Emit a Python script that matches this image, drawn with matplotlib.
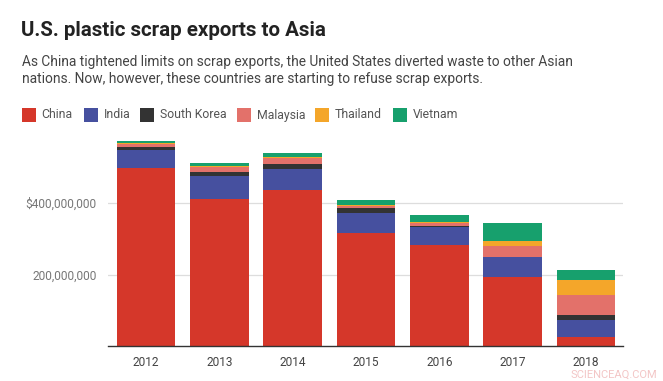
import matplotlib
matplotlib.use("Agg")
import matplotlib.pyplot as plt
from matplotlib.patches import Rectangle

plt.rcParams['font.family'] = ['Roboto', 'DejaVu Sans']

years = ['2012', '2013', '2014', '2015', '2016', '2017', '2018']
# values in millions of US dollars
china    = [499, 411, 435, 315, 282, 192, 24]
india    = [50, 65, 61, 58, 51, 56, 48]
skorea   = [7, 11, 14, 12, 4, 2, 14]
malaysia = [10, 15, 16, 7, 8, 31, 56]
thailand = [3, 1, 4, 2, 2, 12, 42]
vietnam  = [5, 9, 10, 14, 19, 52, 28]

series_names = ['China', 'India', 'South Korea', 'Malaysia', 'Thailand', 'Vietnam']
series_vals = [china, india, skorea, malaysia, thailand, vietnam]
colors = ['#d5372a', '#46509f', '#333333', '#e3716a', '#f4a62a', '#17a06d']

ytick_vals = [200, 400]
ytick_labels = ['200,000,000', '$400,000,000']

W, H = 663, 381
fig = plt.figure(figsize=(W / 100, H / 100), dpi=100)
fig.patch.set_facecolor('white')

ax = fig.add_axes([108 / W, 1 - 346 / H, (623 - 108) / W, (346 - 131.5) / H])
x = list(range(len(years)))
bottom = [0] * len(years)
for name, vals, c in zip(series_names, series_vals, colors):
    ax.bar(x, vals, bottom=bottom, width=0.8, color=c, linewidth=0, zorder=3)
    bottom = [b + v for b, v in zip(bottom, vals)]

ax.set_xlim(-0.517, 6.504)
ax.set_ylim(0, 600)
ax.set_yticks(ytick_vals)
ax.set_yticklabels(ytick_labels)
ax.set_xticks(x)
ax.set_xticklabels(years)
ax.yaxis.grid(True, color='#dddddd', linewidth=0.9, zorder=0)
ax.tick_params(axis='y', length=0, pad=8, labelsize=8.6, labelcolor='#777777')
ax.tick_params(axis='x', length=0, pad=7, labelsize=8.6, labelcolor='#444444')
for s in ['top', 'right', 'left']:
    ax.spines[s].set_visible(False)
ax.spines['bottom'].set_color('#333333')
ax.spines['bottom'].set_linewidth(1.0)
ax.spines['bottom'].set_zorder(4)

# Title and subtitle
fig.text(21 / W, 1 - 31 / H, 'U.S. plastic scrap exports to Asia', fontsize=14.8,
         fontweight='bold', color='#222222', va='center', ha='left')
fig.text(22 / W, 1 - 62 / H,
         'As China tightened limits on scrap exports, the United States diverted waste to other Asian',
         fontsize=9.95, color='#444444', va='center', ha='left')
fig.text(22 / W, 1 - 79 / H,
         'nations. Now, however, these countries are starting to refuse scrap exports.',
         fontsize=9.95, color='#444444', va='center', ha='left')

# Legend
leg_x = [22, 84, 140, 237, 315, 393]
for lx, name, c in zip(leg_x, series_names, colors):
    fig.patches.append(Rectangle((lx / W, 1 - 121.5 / H), 13.5 / W, 13.5 / H,
                                 transform=fig.transFigure, facecolor=c,
                                 edgecolor='none'))
    fig.text((lx + 19.5) / W, 1 - 115 / H, name, fontsize=8.8, color='#555555',
             va='center', ha='left')

# Watermark
fig.text(614 / W, 1 - 375 / H, 'SCIENCEAQ.COM', fontsize=8, color='#f3c6c6',
         va='center', ha='center')

fig.savefig('out.png', dpi=100, facecolor='white')
